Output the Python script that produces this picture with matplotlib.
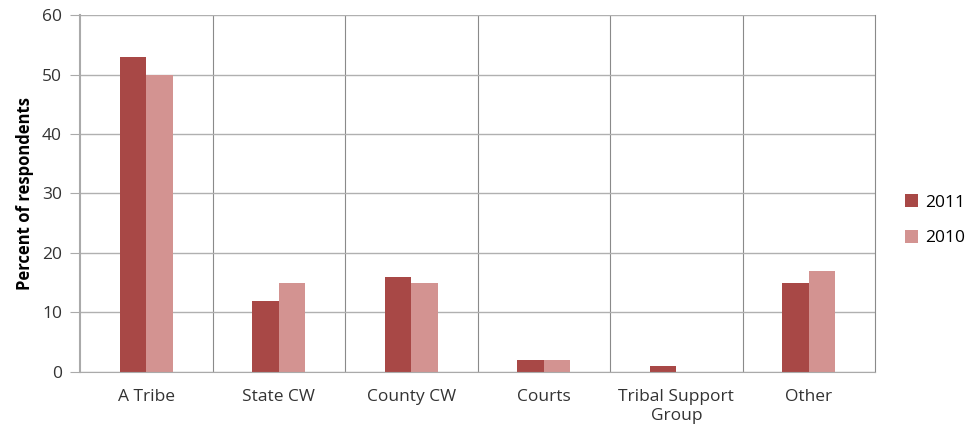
import numpy as np
import matplotlib.pyplot as plt

plt.rcParams['font.family'] = ['Open Sans', 'DejaVu Sans']

categories = ["A Tribe", "State CW", "County CW", "Courts", "Tribal Support\nGroup", "Other"]
values_2011 = [53, 12, 16, 2, 1, 15]
values_2010 = [50, 15, 15, 2, 0, 17]

fig = plt.figure(figsize=(9.72, 4.34), dpi=100)
ax = fig.add_axes([0.0823, 0.143, 0.818, 0.8224])

x = np.arange(len(categories))
w = 0.2
ax.bar(x - w / 2, values_2011, w, color="#a84846", label="2011")
ax.bar(x + w / 2, values_2010, w, color="#d39391", label="2010")

ax.set_xlim(-0.5, len(categories) - 0.5)
ax.set_ylim(0, 60)
ax.set_yticks(range(0, 61, 10))
ax.set_xticks(x)
ax.set_xticklabels(categories, fontsize=12.5, color="#333333", linespacing=1.3)
ax.tick_params(axis="x", length=0, pad=12)
ax.tick_params(axis="y", length=7, color="#aaaaaa", labelsize=12.5, labelcolor="#333333", pad=6)
ax.yaxis.grid(True, color="#b0b0b0", linewidth=1)
for b in np.arange(0.5, len(categories) - 0.5, 1):
    ax.axvline(b, color="#8a8a8a", linewidth=0.8, zorder=0)
ax.set_axisbelow(True)
ax.spines["right"].set_color("#8a8a8a")
ax.spines["right"].set_linewidth(0.8)
ax.spines["top"].set_visible(False)
ax.spines["left"].set_color("#aaaaaa")
ax.spines["bottom"].set_color("#aaaaaa")
ax.spines["left"].set_linewidth(1.5)
ax.set_ylabel("Percent of respondents", fontsize=12, fontweight="bold", color="#000000", labelpad=6)

ax.legend(loc="center left", bbox_to_anchor=(1.037, 0.425), frameon=False,
          handlelength=0.75, handleheight=0.75, handletextpad=0.45, labelspacing=1.1,
          fontsize=12.5, borderpad=0, borderaxespad=0)

fig.savefig("out.png", dpi=100)
